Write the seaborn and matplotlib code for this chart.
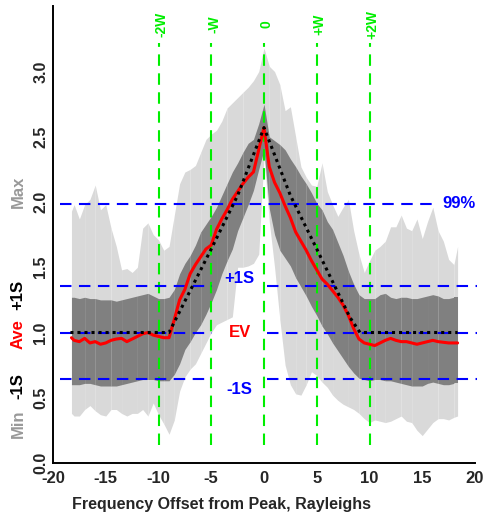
import numpy as np
import pandas as pd
import matplotlib
matplotlib.use("Agg")
import matplotlib.pyplot as plt
import matplotlib.transforms as mtransforms
import seaborn as sns

# ---------------- data ----------------
x = [-18.25, -18.0, -17.5, -17.0, -16.5, -16.0, -15.5, -15.0, -14.5, -14.0, -13.5, -13.0,
     -12.5, -12.0, -11.5, -11.0, -10.5, -10.0, -9.5, -9.0, -8.5, -8.0, -7.5, -7.0, -6.5,
     -6.0, -5.5, -5.0, -4.5, -4.0, -3.5, -3.0, -2.5, -2.0, -1.5, -1.0, -0.5, 0.0, 0.5,
     1.0, 1.5, 2.0, 2.5, 3.0, 3.5, 4.0, 4.5, 5.0, 5.5, 6.0, 6.5, 7.0, 7.5, 8.0, 8.5, 9.0,
     9.5, 10.0, 10.5, 11.0, 11.5, 12.0, 12.5, 13.0, 13.5, 14.0, 14.5, 15.0, 15.5, 16.0,
     16.5, 17.0, 17.5, 18.0, 18.35]

max_vals = [1.93, 1.98, 1.87, 1.98, 2.02, 2.13, 1.94, 1.98, 1.80, 1.66, 1.48, 1.49,
            1.46, 1.50, 1.80, 1.84, 1.75, 1.71, 1.63, 1.66, 1.90, 2.14, 2.23, 2.25, 2.28,
            2.38, 2.48, 2.52, 2.55, 2.62, 2.72, 2.76, 2.80, 2.84, 2.88, 2.93, 3.00, 3.18, 3.04,
            3.00, 2.90, 2.70, 2.73, 2.50, 2.27, 2.19, 2.13, 2.12, 2.30, 2.08, 1.98, 1.89, 1.96,
            2.02, 1.78, 1.60, 1.46, 1.55, 1.63, 1.66, 1.70, 1.81, 1.81, 1.90, 1.80, 1.78, 1.87,
            1.72, 1.85, 1.96, 1.78, 1.70, 1.56, 1.52, 1.66]

upper_vals = [1.27, 1.27, 1.26, 1.27, 1.26, 1.26, 1.25, 1.25, 1.25, 1.24, 1.25, 1.26,
              1.27, 1.28, 1.29, 1.30, 1.28, 1.26, 1.26, 1.27, 1.33, 1.45, 1.53, 1.59, 1.67,
              1.77, 1.83, 1.89, 1.96, 2.05, 2.14, 2.23, 2.30, 2.38, 2.45, 2.48, 2.60, 2.75, 2.50,
              2.47, 2.44, 2.40, 2.33, 2.27, 2.20, 2.14, 2.07, 1.99, 1.94, 1.85, 1.79, 1.69, 1.59,
              1.47, 1.37, 1.29, 1.26, 1.26, 1.26, 1.29, 1.30, 1.27, 1.26, 1.27, 1.27, 1.26, 1.26,
              1.27, 1.28, 1.29, 1.28, 1.26, 1.26, 1.27, 1.27]

mean_vals = [0.96, 0.94, 0.93, 0.955, 0.92, 0.93, 0.91, 0.92, 0.94, 0.95, 0.955, 0.93,
             0.95, 0.97, 0.99, 1.00, 0.98, 0.97, 0.96, 0.96, 1.10, 1.25, 1.33, 1.45, 1.52,
             1.58, 1.64, 1.67, 1.79, 1.87, 1.94, 2.02, 2.08, 2.14, 2.19, 2.23, 2.40, 2.57, 2.27,
             2.15, 2.07, 1.97, 1.88, 1.77, 1.70, 1.63, 1.55, 1.48, 1.41, 1.37, 1.32, 1.27, 1.21,
             1.13, 1.03, 0.95, 0.92, 0.91, 0.90, 0.92, 0.94, 0.955, 0.94, 0.93, 0.93, 0.92, 0.91,
             0.92, 0.93, 0.94, 0.93, 0.925, 0.92, 0.92, 0.92]

lower_vals = [0.60, 0.60, 0.60, 0.61, 0.61, 0.60, 0.59, 0.59, 0.59, 0.59, 0.60, 0.61,
              0.62, 0.63, 0.64, 0.64, 0.64, 0.63, 0.63, 0.63, 0.68, 0.76, 0.87, 0.93, 1.00,
              1.06, 1.14, 1.23, 1.33, 1.45, 1.55, 1.64, 1.78, 1.88, 1.98, 2.09, 2.25, 2.40, 1.95,
              1.75, 1.63, 1.57, 1.51, 1.42, 1.35, 1.28, 1.20, 1.13, 1.05, 0.99, 0.92, 0.86, 0.80,
              0.74, 0.69, 0.65, 0.64, 0.63, 0.64, 0.64, 0.63, 0.63, 0.62, 0.61, 0.60, 0.59, 0.59,
              0.59, 0.61, 0.62, 0.61, 0.60, 0.60, 0.61, 0.61]

min_vals = [0.38, 0.36, 0.36, 0.41, 0.44, 0.40, 0.37, 0.36, 0.41, 0.41, 0.38, 0.36,
            0.38, 0.38, 0.41, 0.36, 0.46, 0.37, 0.30, 0.22, 0.33, 0.55, 0.66, 0.72, 0.76,
            0.84, 0.92, 1.00, 1.06, 1.08, 1.10, 1.12, 1.50, 1.50, 1.51, 1.53, 1.60, 2.35, 1.85,
            1.50, 1.10, 0.75, 0.60, 0.53, 0.52, 0.60, 0.70, 0.67, 0.62, 0.58, 0.52, 0.48, 0.45,
            0.43, 0.41, 0.38, 0.34, 0.31, 0.33, 0.32, 0.31, 0.32, 0.34, 0.36, 0.32, 0.31, 0.25,
            0.21, 0.26, 0.31, 0.34, 0.34, 0.33, 0.35, 0.36]

ev_x = [-18.35, -9.0, -5.0, -2.5, 0.0, 2.5, 5.0, 8.15, 9.1, 18.35]
ev_vals = [1.0, 1.0, 1.64, 2.05, 2.57, 2.05, 1.64, 1.115, 1.0, 1.0]

w_marks = [-10, -5, 0, 5, 10]
w_labels = ["-2W", "-W", "0", "+W", "+2W"]

level_values = [0.64, 1.0, 1.354]
level_labels = ["-1S", "EV", "+1S"]
level_label_colors = ["blue", "red", "blue"]
p99_value = 1.985
p99_label = "99%"

side_labels = ["Max", "+1S", "Ave", "-1S", "Min"]
side_label_y = [2.08, 1.29, 0.99, 0.59, 0.30]
side_label_colors = ["#999999", "black", "red", "black", "#999999"]

xticks = [-20, -15, -10, -5, 0, 5, 10, 15, 20]
yticks = [0.0, 0.5, 1.0, 1.5, 2.0, 2.5, 3.0, 3.5]
ytick_labels = ["0.0", "0.5", "1.0", "1.5", "2.0", "2.5", "3.0", ""]

df = pd.DataFrame({"x": x, "max": max_vals, "upper": upper_vals, "mean": mean_vals,
                   "lower": lower_vals, "min": min_vals})
ev_df = pd.DataFrame({"x": ev_x, "ev": ev_vals})

# ---------------- style ----------------
sns.set_theme(style="white")
plt.rcParams["font.family"] = ["Liberation Sans", "DejaVu Sans"]
plt.rcParams["font.weight"] = "bold"

W, H = 485, 517
fig = plt.figure(figsize=(W / 100, H / 100), dpi=100)
x0_px, y0_px = 53, 463
px_per_x, px_per_y = 10.55, 130.5
xlim = (-20, 21)
ylim = (0, 3.5)
ax = fig.add_axes([x0_px / W, (H - y0_px) / H,
                   (xlim[1] - xlim[0]) * px_per_x / W, (ylim[1] - ylim[0]) * px_per_y / H])
ax.set_xlim(*xlim)
ax.set_ylim(*ylim)

# bands, drawn in short pieces (gives the faint seams of the original)
n = len(df)
bounds = [0]
step_cycle = [3, 2]
k = 0
while bounds[-1] < n - 1:
    bounds.append(min(bounds[-1] + step_cycle[k % 2], n - 1))
    k += 1
for a, b in zip(bounds[:-1], bounds[1:]):
    seg = df.iloc[a:b + 1]
    ax.fill_between(seg["x"], seg["min"], seg["max"], color="#d9d9d9", lw=0, zorder=1)
for a, b in zip(bounds[:-1], bounds[1:]):
    seg = df.iloc[a:b + 1]
    ax.fill_between(seg["x"], seg["lower"], seg["upper"], color="#808080", lw=0, zorder=2)

# reference lines
dash = (0, (5.5, 3.6))
ax.vlines(w_marks, 0.14, 3.22, colors="#00ee00", lw=1.5, linestyles=[dash], zorder=3)
for lv in level_values:
    ax.hlines(lv, -19.3, -4.9, colors="blue", lw=1.5, linestyles=[dash], zorder=5)
    ax.hlines(lv, 0.3, 20.2, colors="blue", lw=1.5, linestyles=[dash], zorder=5)
ax.hlines(p99_value, -19.3, 15.9, colors="blue", lw=1.5, linestyles=[dash], zorder=5)

# lines
sns.lineplot(data=df, x="x", y="mean", color="red", lw=2.2, ax=ax, zorder=6,
             sort=False, estimator=None)
sns.lineplot(data=ev_df, x="x", y="ev", color="black", lw=2.2, ax=ax, zorder=7,
             sort=False, estimator=None, linestyle=(0, (1, 1.3)))

# in-plot labels
for lv, lab, col in zip(level_values, level_labels, level_label_colors):
    va = {"-1S": "top", "EV": "center", "+1S": "bottom"}[lab]
    dy = {"-1S": -0.02, "EV": 0.0, "+1S": 0.0}[lab]
    ax.text(-2.3, lv + dy, lab, color=col, fontsize=12, fontweight="bold",
            ha="center", va=va, zorder=8)
ax.text(18.45, p99_value, p99_label, color="blue", fontsize=12, fontweight="bold",
        ha="center", va="center", zorder=8)

for xm, lab in zip(w_marks, w_labels):
    ax.text(xm + 0.28, 3.36, lab, color="#00ee00", fontsize=10, fontweight="bold",
            rotation=90, ha="center", va="center", clip_on=False)

trans = mtransforms.blended_transform_factory(fig.transFigure, ax.transData)
for lab, yy, col in zip(side_labels, side_label_y, side_label_colors):
    fig.text(18 / W, yy, lab, transform=trans, color=col, fontsize=12,
             fontweight="bold", rotation=90, ha="center", va="center")

# axes styling
for s in ["top", "right"]:
    ax.spines[s].set_visible(False)
for s in ["left", "bottom"]:
    ax.spines[s].set_linewidth(1.4)
    ax.spines[s].set_color("black")
ax.spines["bottom"].set_bounds(-20, 20)
ax.spines["left"].set_bounds(0, 3.5)
ax.set_xticks(xticks)
ax.set_xticklabels([str(t) for t in xticks], fontsize=12, fontweight="bold")
ax.set_yticks(yticks)
ax.set_yticklabels(ytick_labels, fontsize=11.5, fontweight="bold", rotation=90, va="center")
ax.tick_params(axis="both", direction="in", length=6, width=1.0, color="#555555")
ax.tick_params(axis="x", pad=6)
ax.tick_params(axis="y", pad=3.5)
ax.set_xlabel("")
ax.set_ylabel("")
fig.text(222 / W, (H - 504) / H, "Frequency Offset from Peak, Rayleighs", fontsize=11.5,
         fontweight="bold", ha="center", va="center")
leg = ax.get_legend()
if leg:
    leg.remove()

fig.savefig("out.png", dpi=100)
